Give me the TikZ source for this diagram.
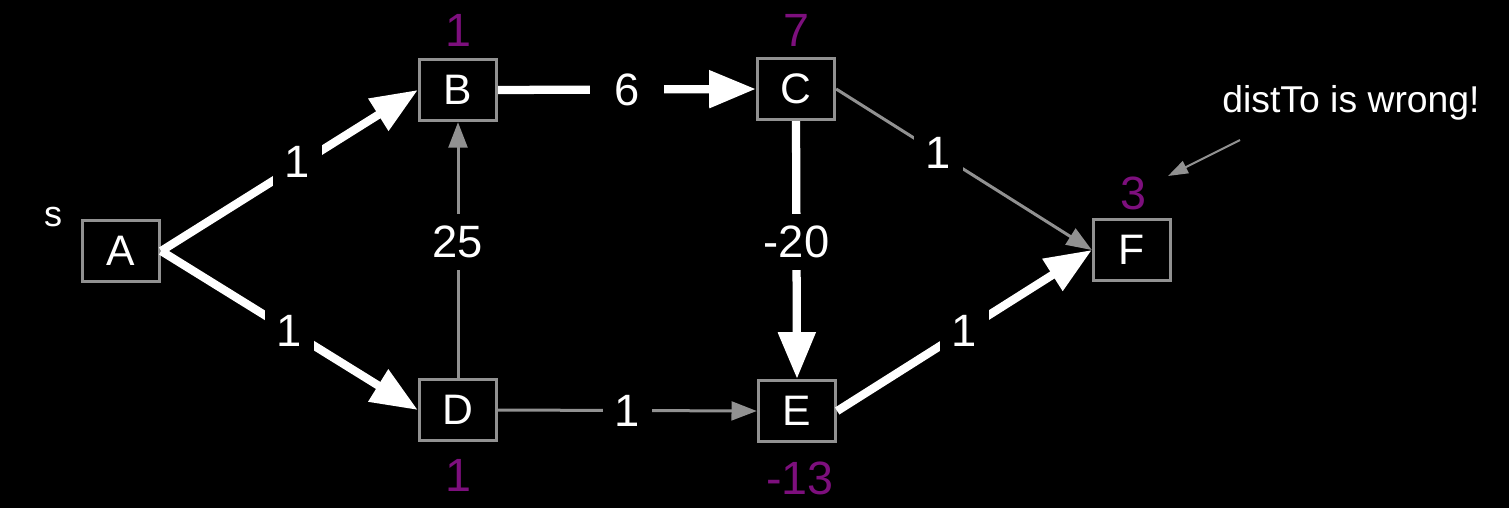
\documentclass[tikz,border=0pt]{standalone}
\usepackage{fontspec}
\setmainfont{Liberation Sans}
\usetikzlibrary{arrows.meta}
\definecolor{boxgray}{RGB}{145,145,145}
\definecolor{distpurple}{RGB}{125,15,125}
\tikzset{
  vertex/.style={draw=boxgray, line width=2.25pt, fill=black, text=white,
    minimum width=58pt, minimum height=46pt, inner sep=0pt,
    font=\fontsize{32}{34}\selectfont},
  relaxed/.style={draw=white, line width=6.2pt, -{Triangle[length=35pt,width=27pt]}},
  plain/.style={draw=boxgray, line width=2.25pt, -{Triangle[length=19pt,width=14pt]}},
  weight/.style={fill=black, text=white, inner sep=9pt, font=\fontsize{34}{36}\selectfont},
  dist/.style={text=distpurple, font=\fontsize{35}{37}\selectfont}
}
\begin{document}
\begin{tikzpicture}[x=0.75pt,y=-0.75pt]
  \fill[black] (0,0) rectangle (1509,508);
  \useasboundingbox (0,0) rectangle (1509,508);

  \node[vertex] (A) at (121,251) {A};
  \node[vertex] (B) at (458,90) {B};
  \node[vertex] (C) at (796,89) {C};
  \node[vertex] (D) at (458,410) {D};
  \node[vertex] (E) at (797,411) {E};
  \node[vertex] (F) at (1132,250) {F};

  \node[text=white, font=\fontsize{27}{29}\selectfont] (s) at (53,217) {s};
  \node[dist] (dB) at (458,30) {1};
  \node[dist] (dC) at (796,30) {7};
  \node[dist] (dD) at (458,475) {1};
  \node[dist] (dE) at (800,478) {-13};
  \node[dist] (dF) at (1133,193) {3};

  \draw[plain] (D.north) -- node[weight, pos=0.53] {25} (B.south);
  \draw[plain] (D.east) -- node[weight] {1} (E.west);
  \draw[plain] (C.east) -- node[weight, pos=0.4] {1} (F.west);
  \draw[relaxed] (A.east) -- node[weight, pos=0.53, yshift=3pt] {1} (B.west);
  \draw[relaxed] (A.east) -- node[weight] {1} (D.west);
  \draw[relaxed] (B.east) -- node[weight, inner xsep=18pt] {6} (C.west);
  \draw[relaxed] (C.south) -- node[weight, pos=0.47] {-20} (E.north);
  \draw[relaxed] (E.east) -- node[weight] {1} (F.west);

  \node[text=white, font=\fontsize{28}{30}\selectfont] (note) at (1351,103) {distTo is wrong!};
  \coordinate (noteTail) at (1240,140);
  \draw[draw=boxgray, line width=1.5pt, -{Triangle[length=15pt,width=10pt]}] (noteTail) -- (1168,176);
\end{tikzpicture}
\end{document}
